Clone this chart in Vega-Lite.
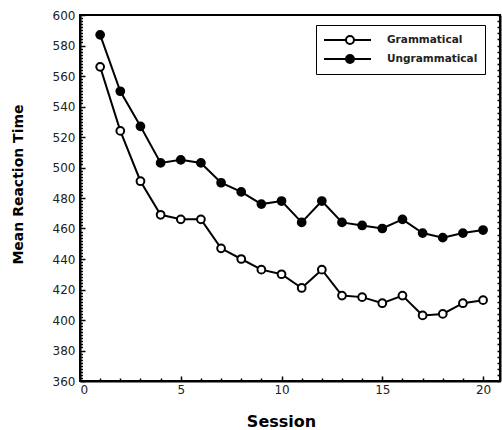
{
  "$schema": "https://vega.github.io/schema/vega-lite/v6.json",
  "autosize": "none",
  "width": 420,
  "height": 366,
  "padding": {"left": 80, "top": 15, "right": 2, "bottom": 49},
  "background": "white",
  "config": {
    "view": {"stroke": "black", "strokeWidth": 2},
    "font": "DejaVu Sans",
    "axis": {"domainColor": "black", "domainWidth": 2, "tickColor": "black", "tickWidth": 1.5, "tickOpacity": 1, "labelColor": "#222", "labelFont": "DejaVu Sans", "labelFontSize": 11, "grid": false, "titleColor": "black", "titleFont": "DejaVu Sans", "titleFontWeight": "bold", "labelOverlap": false, "ticks": true}
  },
  "data": {"values": [
    {"session": 1, "type": "Grammatical", "rt": 566},
    {"session": 2, "type": "Grammatical", "rt": 524},
    {"session": 3, "type": "Grammatical", "rt": 491},
    {"session": 4, "type": "Grammatical", "rt": 469},
    {"session": 5, "type": "Grammatical", "rt": 466},
    {"session": 6, "type": "Grammatical", "rt": 466},
    {"session": 7, "type": "Grammatical", "rt": 447},
    {"session": 8, "type": "Grammatical", "rt": 440},
    {"session": 9, "type": "Grammatical", "rt": 433},
    {"session": 10, "type": "Grammatical", "rt": 430},
    {"session": 11, "type": "Grammatical", "rt": 421},
    {"session": 12, "type": "Grammatical", "rt": 433},
    {"session": 13, "type": "Grammatical", "rt": 416},
    {"session": 14, "type": "Grammatical", "rt": 415},
    {"session": 15, "type": "Grammatical", "rt": 411},
    {"session": 16, "type": "Grammatical", "rt": 416},
    {"session": 17, "type": "Grammatical", "rt": 403},
    {"session": 18, "type": "Grammatical", "rt": 404},
    {"session": 19, "type": "Grammatical", "rt": 411},
    {"session": 20, "type": "Grammatical", "rt": 413},
    {"session": 1, "type": "Ungrammatical", "rt": 587},
    {"session": 2, "type": "Ungrammatical", "rt": 550},
    {"session": 3, "type": "Ungrammatical", "rt": 527},
    {"session": 4, "type": "Ungrammatical", "rt": 503},
    {"session": 5, "type": "Ungrammatical", "rt": 505},
    {"session": 6, "type": "Ungrammatical", "rt": 503},
    {"session": 7, "type": "Ungrammatical", "rt": 490},
    {"session": 8, "type": "Ungrammatical", "rt": 484},
    {"session": 9, "type": "Ungrammatical", "rt": 476},
    {"session": 10, "type": "Ungrammatical", "rt": 478},
    {"session": 11, "type": "Ungrammatical", "rt": 464},
    {"session": 12, "type": "Ungrammatical", "rt": 478},
    {"session": 13, "type": "Ungrammatical", "rt": 464},
    {"session": 14, "type": "Ungrammatical", "rt": 462},
    {"session": 15, "type": "Ungrammatical", "rt": 460},
    {"session": 16, "type": "Ungrammatical", "rt": 466},
    {"session": 17, "type": "Ungrammatical", "rt": 457},
    {"session": 18, "type": "Ungrammatical", "rt": 454},
    {"session": 19, "type": "Ungrammatical", "rt": 457},
    {"session": 20, "type": "Ungrammatical", "rt": 459}
  ]},
  "encoding": {
    "x": {"field": "session", "type": "quantitative", "scale": {"domain": [0, 20.84], "nice": false},
      "axis": {"title": "Session", "ticks": true, "zindex": 2, "tickColor": "black", "tickOpacity": 1, "tickWidth": 1.5,
        "values": [0,1,2,3,4,5,6,7,8,9,10,11,12,13,14,15,16,17,18,19,20],
        "labelExpr": "datum.value % 5 === 0 ? datum.label : ''",
        "tickSize": {"condition": {"test": "datum.value % 5 === 0", "value": -5}, "value": -3},
        "labelFontSize": 12, "labelPadding": 8, "titleX": 201, "titleY": 40, "titleBaseline": "middle", "titleFontSize": 16}},
    "y": {"field": "rt", "type": "quantitative", "scale": {"domain": [360, 600], "nice": false, "zero": false},
      "axis": {"title": "Mean Reaction Time", "ticks": true, "zindex": 2, "tickColor": "black", "tickOpacity": 1, "tickWidth": 1.5,
        "values": [360,362,364,366,368,370,372,374,376,378,380,382,384,386,388,390,392,394,396,398,400,402,404,406,408,410,412,414,416,418,420,422,424,426,428,430,432,434,436,438,440,442,444,446,448,450,452,454,456,458,460,462,464,466,468,470,472,474,476,478,480,482,484,486,488,490,492,494,496,498,500,502,504,506,508,510,512,514,516,518,520,522,524,526,528,530,532,534,536,538,540,542,544,546,548,550,552,554,556,558,560,562,564,566,568,570,572,574,576,578,580,582,584,586,588,590,592,594,596,598,600],
        "labelExpr": "datum.value % 20 === 0 ? datum.label : ''",
        "tickSize": {"condition": {"test": "datum.value % 20 === 0", "value": -5}, "value": -2.5},
        "labelFontSize": 12, "labelPadding": 10, "titleX": -62, "titleY": 169, "titleAlign": "center", "titleBaseline": "middle", "titleAngle": -90, "titleFontSize": 14}}
  },
  "resolve": {"axis": {"y": "independent"}},
  "layer": [
    {
      "mark": {"type": "line", "color": "black", "strokeWidth": 2},
      "encoding": {"detail": {"field": "type"}}
    },
    {
      "mark": {"type": "point", "filled": false, "stroke": "black", "strokeWidth": 2, "size": 60, "opacity": 1},
      "encoding": {
        "y": {"field": "rt", "type": "quantitative",
          "axis": {"orient": "right", "title": null, "labels": false, "ticks": true, "zindex": 2, "tickColor": "black", "tickOpacity": 1, "tickWidth": 1.5,
            "values": [360,364,368,372,376,380,384,388,392,396,400,404,408,412,416,420,424,428,432,436,440,444,448,452,456,460,464,468,472,476,480,484,488,492,496,500,504,508,512,516,520,524,528,532,536,540,544,548,552,556,560,564,568,572,576,580,584,588,592,596,600],
            "tickSize": -3}},
        "fill": {"field": "type", "type": "nominal",
          "scale": {"domain": ["Grammatical", "Ungrammatical"], "range": ["white", "black"]},
          "legend": {"title": null, "orient": "none", "legendX": 236, "legendY": 10,
            "strokeColor": "black", "padding": 7, "fillColor": "white",
            "symbolType": "M-1,0H2.14M3.28,0H5.71M3.28,0A0.57,0.57,0,1,1,2.14,0A0.57,0.57,0,1,1,3.28,0Z",
            "symbolSize": 196, "symbolStrokeColor": "black", "symbolStrokeWidth": 2,
            "labelFont": "DejaVu Sans", "labelFontWeight": "bold", "labelFontSize": 10.5, "labelColor": "#222", "labelOffset": 48, "rowPadding": 3, "labelLimit": 200}}
      }
    }
  ]
}
